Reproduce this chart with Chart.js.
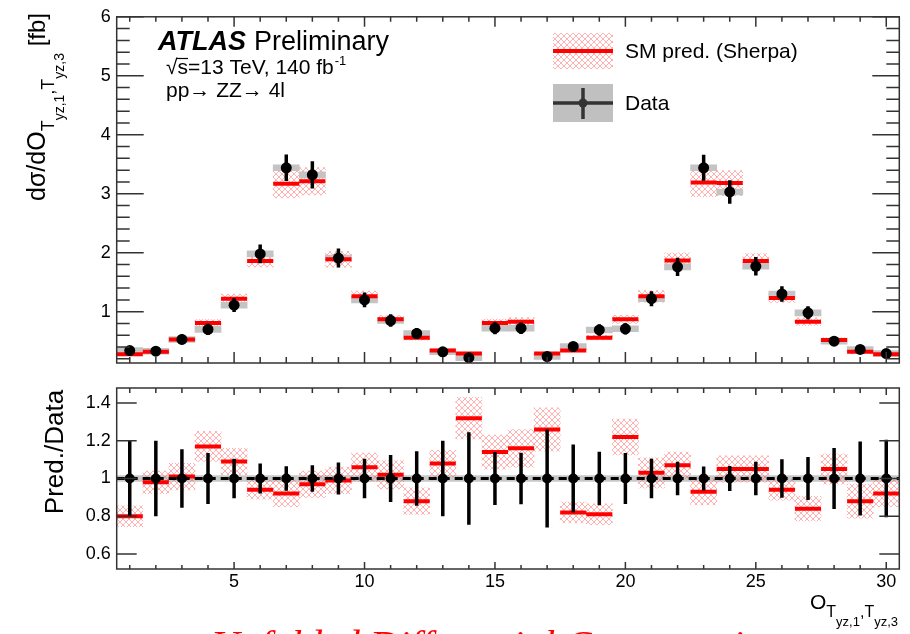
<!DOCTYPE html>
<html>
<head>
<meta charset="utf-8">
<script src="https://cdn.jsdelivr.net/npm/chart.js@4.4.1/dist/chart.umd.min.js"></script>
<style>
  body { margin: 0; background: #fff; }
  #wrap { position: relative; width: 910px; height: 634px; }
  #wrap canvas { position: absolute; left: 0; top: 0; }
</style>
</head>
<body>
<div id="wrap">
  <canvas id="upper" width="910" height="634"></canvas>
  <canvas id="lower" width="910" height="634"></canvas>
</div>
<script>
// bin centres of O_{Tyz,1,Tyz,3}
var bins = [1, 2, 3, 4, 5, 6, 7, 8, 9, 10, 11, 12, 13, 14, 15,
            16, 17, 18, 19, 20, 21, 22, 23, 24, 25, 26, 27, 28, 29, 30];
// unfolded data, fb
var dataVals = [0.34, 0.33, 0.53, 0.70, 1.11, 1.98, 3.44, 3.32, 1.91, 1.20, 0.85, 0.63, 0.32, 0.22, 0.72,
                0.72, 0.24, 0.41, 0.69, 0.71, 1.22, 1.76, 3.44, 3.03, 1.77, 1.30, 0.98, 0.50, 0.36, 0.29];
// SM prediction (Sherpa), fb
var predVals = [0.28, 0.32, 0.53, 0.81, 1.22, 1.86, 3.17, 3.21, 1.89, 1.26, 0.87, 0.56, 0.34, 0.29, 0.81,
                0.83, 0.29, 0.34, 0.56, 0.87, 1.26, 1.87, 3.19, 3.18, 1.86, 1.23, 0.83, 0.52, 0.32, 0.28];
// Pred./Data
var ratioVals = [0.80, 0.98, 1.01, 1.17, 1.09, 0.94, 0.92, 0.97, 0.99, 1.06, 1.02, 0.88, 1.08, 1.32, 1.14,
                 1.16, 1.26, 0.82, 0.81, 1.22, 1.03, 1.07, 0.93, 1.05, 1.05, 0.94, 0.84, 1.05, 0.88, 0.92];
// relative data uncertainty (error bars in the ratio)
var dataRelErr = [0.20, 0.20, 0.155, 0.135, 0.105, 0.08, 0.065, 0.07, 0.085, 0.105, 0.125, 0.145, 0.20, 0.245, 0.14,
                  0.137, 0.26, 0.18, 0.142, 0.135, 0.105, 0.089, 0.064, 0.066, 0.089, 0.102, 0.114, 0.162, 0.196, 0.206];
// prediction band half width in the ratio
var ratioBand = [0.055, 0.06, 0.07, 0.08, 0.07, 0.05, 0.07, 0.07, 0.07, 0.075, 0.075, 0.07, 0.07, 0.11, 0.09,
                 0.10, 0.115, 0.055, 0.055, 0.095, 0.08, 0.07, 0.07, 0.07, 0.07, 0.055, 0.065, 0.08, 0.09, 0.07];
var dataSys = 0.05;    // grey box half height, fb
var ratioSys = 0.016;  // grey band round 1

// tick labels
var xTicks = [5, 10, 15, 20, 25, 30];
var yTopTicks = [1, 2, 3, 4, 5, 6];
var yRatioTicks = [0.6, 0.8, 1, 1.2, 1.4];

var FONT = "'Liberation Sans', Arial, Helvetica, sans-serif";
var AREA_W = 116.7;

function makeHatch() {
  var c = document.createElement('canvas');
  c.width = 6; c.height = 6;
  var g = c.getContext('2d');
  g.strokeStyle = 'rgba(255,70,70,0.42)';
  g.lineWidth = 1;
  g.beginPath();
  g.moveTo(0, 0); g.lineTo(6, 6);
  g.moveTo(6, 0); g.lineTo(0, 6);
  g.stroke();
  return g.createPattern(c, 'repeat');
}
var hatch = makeHatch();

// helpers turning the arrays into points
function boxes(mid, half) {
  return bins.map(function (b, i) { return {x: b, y: [mid[i] - half[i], mid[i] + half[i]]}; });
}
function steps(vals) {
  var pts = [];
  bins.forEach(function (b, i) {
    pts.push({x: b - 0.5, y: vals[i]}, {x: b + 0.5, y: vals[i]}, {x: b + 0.5, y: null});
  });
  return pts;
}
function bars(mid, half) {
  var pts = [];
  bins.forEach(function (b, i) {
    pts.push({x: b, y: mid[i] - half[i]}, {x: b, y: mid[i] + half[i]}, {x: b, y: null});
  });
  return pts;
}
function pts(vals) {
  return bins.map(function (b, i) { return {x: b, y: vals[i]}; });
}

var predHalf = predVals.map(function (p, i) { return p * ratioBand[i] / ratioVals[i]; });
var dataErr = dataVals.map(function (d, i) { return d * dataRelErr[i]; });
var sysTop = bins.map(function () { return dataSys; });
var ones = bins.map(function () { return 1; });
var sysRatio = bins.map(function () { return ratioSys; });

// rich text: parts = [text, size, baseline shift]
function rich(ctx, parts, x, y, align) {
  var w = 0;
  parts.forEach(function (p) { ctx.font = p[1] + 'px ' + FONT; w += ctx.measureText(p[0]).width; });
  var cx = align === 'right' ? x - w : (align === 'center' ? x - w / 2 : x);
  ctx.textAlign = 'left';
  ctx.textBaseline = 'alphabetic';
  parts.forEach(function (p) {
    ctx.font = p[1] + 'px ' + FONT;
    ctx.fillText(p[0], cx, y + p[2]);
    cx += ctx.measureText(p[0]).width;
  });
}

// frame with inward ticks
var framePlugin = {
  id: 'frame',
  afterDraw: function (chart, args, o) {
    var ctx = chart.ctx, a = chart.chartArea, sx = chart.scales.x, sy = chart.scales.y;
    ctx.save();
    ctx.strokeStyle = '#333';
    ctx.lineWidth = 1.5;
    ctx.strokeRect(a.left, a.top, a.right - a.left, a.bottom - a.top);
    ctx.beginPath();
    for (var k = 1; k <= 30; k++) {
      var px = sx.getPixelForValue(k), mj = k % 5 === 0;
      ctx.moveTo(px, a.top); ctx.lineTo(px, a.top + (mj ? o.xTop[0] : o.xTop[1]));
      ctx.moveTo(px, a.bottom); ctx.lineTo(px, a.bottom - (mj ? o.xBot[0] : o.xBot[1]));
    }
    for (var j = Math.ceil(sy.min / o.yStep); j * o.yStep <= sy.max + 1e-9; j++) {
      var v = j * o.yStep, r = v / o.yMajor;
      var major = Math.abs(r - Math.round(r)) < 1e-6;
      var len = major ? o.yLen[0] : o.yLen[1];
      if (!len) continue;
      var py = sy.getPixelForValue(v);
      ctx.moveTo(a.left, py); ctx.lineTo(a.left + len, py);
      ctx.moveTo(a.right, py); ctx.lineTo(a.right - len, py);
    }
    ctx.stroke();
    ctx.restore();
  }
};

var upperText = {
  id: 'upperText',
  afterDraw: function (chart) {
    var ctx = chart.ctx;
    ctx.save();
    ctx.fillStyle = '#000';
    ctx.textBaseline = 'alphabetic';
    ctx.font = 'italic bold 27px ' + FONT;
    ctx.fillText('ATLAS', 158, 50);
    var w = ctx.measureText('ATLAS').width;
    ctx.font = '27px ' + FONT;
    ctx.fillText('Preliminary', 158 + w + 8, 50);

    ctx.font = '21px ' + FONT;
    ctx.fillText('\u221A', 166, 74);
    var rx = 166 + ctx.measureText('\u221A').width;
    var sw = ctx.measureText('s').width;
    ctx.fillText('s=13 TeV, 140 fb', rx, 74);
    var ew = ctx.measureText('s=13 TeV, 140 fb').width;
    ctx.font = '13px ' + FONT;
    ctx.fillText('-1', rx + ew + 1, 65);
    ctx.strokeStyle = '#000';
    ctx.lineWidth = 1.2;
    ctx.beginPath();
    ctx.moveTo(rx - 1, 58.5); ctx.lineTo(rx + sw, 58.5);
    ctx.stroke();
    ctx.font = '21px ' + FONT;
    ctx.fillText('pp\u2192 ZZ\u2192 4l', 166, 97);

    // legend
    ctx.fillStyle = hatch;
    ctx.fillRect(553, 33, 60, 36);
    ctx.strokeStyle = '#ff0000';
    ctx.lineWidth = 4;
    ctx.beginPath(); ctx.moveTo(553, 51); ctx.lineTo(613, 51); ctx.stroke();
    ctx.fillStyle = '#c0c0c0';
    ctx.fillRect(553, 84, 60, 38);
    ctx.strokeStyle = '#333';
    ctx.lineWidth = 3.5;
    ctx.beginPath();
    ctx.moveTo(553, 103); ctx.lineTo(613, 103);
    ctx.moveTo(583, 88); ctx.lineTo(583, 119);
    ctx.stroke();
    ctx.fillStyle = '#333';
    ctx.beginPath(); ctx.arc(583, 103, 4.5, 0, 2 * Math.PI); ctx.fill();
    ctx.fillStyle = '#000';
    ctx.font = '21px ' + FONT;
    ctx.textBaseline = 'middle';
    ctx.fillText('SM pred. (Sherpa)', 625, 52);
    ctx.fillText('Data', 625, 104);

    // y title
    ctx.translate(45, 107);
    ctx.rotate(-Math.PI / 2);
    rich(ctx, [['d\u03C3/dO', 25, 0], ['T', 18, 9], ['yz,1', 14, 19], [',', 18, 9],
               ['T', 18, 9], ['yz,3', 14, 19], [' [fb]', 24, 0]], 0, 0, 'center');
    ctx.restore();
  }
};

var lowerText = {
  id: 'lowerText',
  afterDraw: function (chart) {
    var ctx = chart.ctx;
    ctx.save();
    ctx.fillStyle = '#000';
    rich(ctx, [['O', 21, 0], ['T', 16, 8], ['yz,1', 13, 17], [',', 16, 8],
               ['T', 16, 8], ['yz,3', 13, 17]], 898, 609, 'right');
    ctx.fillStyle = '#ff0000';
    ctx.font = "italic 40px 'Liberation Serif', 'Times New Roman', serif";
    ctx.textAlign = 'left';
    ctx.fillText('Unfolded Differential Cross-section', 211, 658);
    ctx.fillStyle = '#000';
    ctx.translate(63, 452);
    ctx.rotate(-Math.PI / 2);
    rich(ctx, [['Pred./Data', 26, 0]], 0, 0, 'center');
    ctx.restore();
  }
};

function setTicks(vals) {
  return function (s) { s.ticks = vals.map(function (v) { return {value: v}; }); };
}
function xScale(show) {
  return {
    type: 'linear', min: 0.5, max: 30.5, offset: false, display: show,
    grid: {display: false, drawTicks: false, offset: false},
    border: {display: false},
    afterBuildTicks: setTicks(xTicks),
    ticks: {autoSkip: false, padding: 2, color: '#000', font: {family: FONT, size: 18}},
    afterFit: function (s) { s.height = 25; }
  };
}
function yScale(min, max, vals) {
  return {
    min: min, max: max,
    grid: {display: false, drawTicks: false},
    border: {display: false},
    afterBuildTicks: setTicks(vals),
    ticks: {autoSkip: false, padding: 6, color: '#000', font: {family: FONT, size: 18},
            callback: function (v) { return String(+v.toFixed(1)); }},
    afterFit: function (s) { s.width = AREA_W; }
  };
}
var common = {
  responsive: false, animation: false, events: [], devicePixelRatio: 1,
  plugins: {legend: {display: false}, tooltip: {enabled: false}}
};
function barSet(data, color, order) {
  return {type: 'bar', data: data, backgroundColor: color, borderWidth: 0, grouped: false,
          barPercentage: 1, categoryPercentage: 1, order: order};
}
function lineSet(data, color, width, order, dash) {
  return {type: 'line', data: data, borderColor: color, borderWidth: width, pointRadius: 0,
          fill: false, tension: 0, spanGaps: false, borderCapStyle: 'butt',
          borderDash: dash || [], order: order};
}
function markSet(data, r) {
  return {type: 'scatter', data: data, pointRadius: r, pointBackgroundColor: '#000',
          pointBorderWidth: 0, order: 0};
}

var upper = new Chart(document.getElementById('upper'), {
  type: 'bar',
  data: {
    datasets: [
      markSet(pts(dataVals), 5.5),
      lineSet(bars(dataVals, dataErr), '#000', 3.5, 1),
      lineSet(steps(predVals), '#ff0000', 4, 2),
      barSet(boxes(dataVals, sysTop), '#c4c4c4', 3),
      barSet(boxes(predVals, predHalf), hatch, 4)
    ]
  },
  options: Object.assign({}, common, {
    layout: {padding: {left: 0, right: 10.7, top: 13.3, bottom: 246}},
    scales: {x: xScale(false), y: yScale(0.13, 6, yTopTicks)},
    plugins: Object.assign({}, common.plugins, {
      frame: {xTop: [10, 5], xBot: [11, 6], yStep: 0.2, yMajor: 1, yLen: [27, 13]}
    })
  }),
  plugins: [framePlugin, upperText]
});

var lower = new Chart(document.getElementById('lower'), {
  type: 'bar',
  data: {
    datasets: [
      markSet(pts(ones), 5),
      lineSet(bars(ones, dataRelErr), '#000', 3.5, 1),
      lineSet([{x: 0.5, y: 1}, {x: 30.5, y: 1}], '#000', 3, 2, [8, 5]),
      lineSet(steps(ratioVals), '#ff0000', 4, 3),
      barSet(boxes(ratioVals, ratioBand), hatch, 4),
      barSet(boxes(ones, sysRatio), '#c8c8c8', 5)
    ]
  },
  options: Object.assign({}, common, {
    layout: {padding: {left: 0, right: 10.7, top: 388, bottom: 40}},
    scales: {x: xScale(true), y: yScale(0.52, 1.48, yRatioTicks)},
    plugins: Object.assign({}, common.plugins, {
      frame: {xTop: [7, 5], xBot: [7, 4], yStep: 0.2, yMajor: 0.2, yLen: [20, 0]}
    })
  }),
  plugins: [framePlugin, lowerText]
});
</script>
</body>
</html>
